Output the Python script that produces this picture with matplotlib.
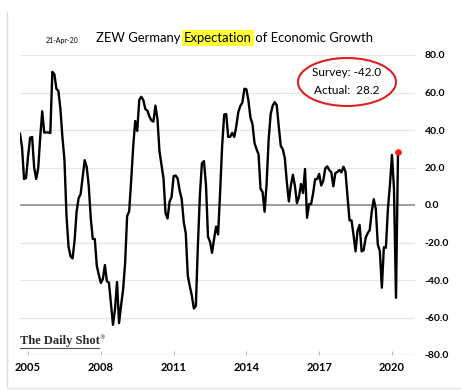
import matplotlib.pyplot as plt
from matplotlib.patches import Ellipse

# monthly ZEW expectations, Sep 2004 .. Apr 2020
start_year, start_month = 2004, 9
values = [
    38.0, 31.0, 13.9, 14.4,
    26.1, 35.9, 36.3, 20.1, 13.9, 19.5, 36.0, 50.0, 38.6, 38.7, 38.7, 38.4,
    71.0, 69.8, 62.0, 60.8, 51.2, 36.0, 24.0, -5.6, -22.2, -27.4, -28.5, -19.0,
    -3.6, 3.7, 5.8, 15.1, 23.9, 20.3, 10.4, -6.9, -18.1, -18.1, -32.5, -37.2,
    -41.6, -39.5, -32.0, -40.7, -41.4, -52.4, -63.9, -55.5, -41.1, -63.0, -53.5, -45.2,
    -31.0, -5.8, -3.5, 13.0, 31.1, 44.8, 39.5, 56.1, 57.7, 56.0, 51.1, 50.4,
    47.2, 45.1, 44.5, 53.0, 45.8, 28.7, 21.2, 14.0, -4.3, -7.2, 1.8, 4.3,
    15.4, 15.7, 14.1, 7.6, 3.1, -9.0, -15.1, -37.6, -43.3, -48.3, -55.2, -53.8,
    -21.6, 5.4, 22.3, 23.4, 10.8, -16.9, -19.6, -25.5, -18.2, -11.5, -15.7, 6.9,
    31.5, 48.2, 48.5, 36.3, 36.4, 38.5, 36.3, 42.0, 49.6, 52.8, 54.6, 62.0,
    61.7, 55.7, 46.6, 43.2, 33.1, 29.8, 27.1, 8.6, 6.9, -3.6, 11.5, 34.9,
    48.4, 53.0, 54.8, 53.3, 41.9, 31.5, 29.7, 25.0, 12.1, 1.9, 10.4, 16.1,
    10.2, 1.0, 4.3, 11.2, 6.4, 19.2, -6.8, 0.5, 0.5, 6.2, 13.8, 13.8,
    16.6, 10.4, 12.8, 19.5, 20.6, 18.6, 17.5, 10.0, 17.0, 17.6, 18.7, 17.4,
    20.4, 17.8, 5.1, -8.2, -8.2, -16.1, -24.7, -13.7, -10.6, -24.7, -24.1, -17.5,
    -15.0, -13.4, -3.6, 3.1, -2.1, -21.1, -24.5, -44.1, -22.5, -22.8, -2.1, 10.7,
    26.7, 8.7, -49.5, 28.2,
]
dates = [start_year + (start_month - 1 + i) / 12 for i in range(len(values))]

year_ticks = [2005, 2008, 2011, 2014, 2017, 2020]
y_ticks = [80, 60, 40, 20, 0, -20, -40, -60, -80]

survey = -42.0
actual = values[-1]

plt.rcParams['font.family'] = ['Lato', 'DejaVu Sans']

fig = plt.figure(figsize=(4.61, 3.91), dpi=100)
ax = fig.add_axes([20 / 461, 1 - 355 / 391, 395 / 461, 300 / 391])

for v in y_ticks:
    if v == 0:
        ax.axhline(v, color='#8c8c8c', lw=1.2, zorder=1)
    elif v == -80:
        ax.axhline(v, color='#cfcfcf', lw=1.0, zorder=1)
    else:
        ax.axhline(v, color='#e6e6e6', lw=0.9, zorder=1)

ax.plot(dates, values, color='black', lw=1.7, zorder=3)
ax.plot(dates[-1], values[-1], 'o', color='#ff1a1a', ms=3.8, zorder=4)

ax.set_xlim(2004.667, 2020.95)
ax.set_ylim(-80, 80)
for s in ax.spines.values():
    s.set_visible(False)

ax.set_xticks(year_ticks)
ax.set_xticklabels([str(y) for y in year_ticks], fontweight='bold', fontsize=8)
ax.tick_params(axis='x', direction='in', length=3, color='#bbbbbb', pad=5)
ax.yaxis.tick_right()
ax.set_yticks(y_ticks)
ax.set_yticklabels([f'{v:.1f}' for v in y_ticks], fontweight='bold', fontsize=7.5)
ax.tick_params(axis='y', length=0, pad=7)

# title with highlighted word
fig.text(0.135, 1 - 40 / 391, '21-Apr-20', fontsize=5, va='center', ha='center')
tsize = 9.4
t1 = fig.text(96 / 461, 1 - 38 / 391, 'ZEW Germany ', fontsize=tsize, va='center')
fig.canvas.draw()
bb = t1.get_window_extent()
t2 = fig.text(bb.x1 / 461, 1 - 38 / 391, 'Expectation', fontsize=tsize, va='center',
              bbox=dict(facecolor='#ffff33', edgecolor='none', pad=1.5))
fig.canvas.draw()
bb2 = t2.get_window_extent()
fig.text(bb2.x1 / 461, 1 - 38 / 391, ' of Economic Growth', fontsize=tsize, va='center')

# survey / actual callout
ell = Ellipse((347 / 461, 1 - 82 / 391), 98 / 461, 48 / 391, transform=fig.transFigure,
              facecolor='white', edgecolor='#e02020', lw=1.5, zorder=5)
fig.add_artist(ell)
fig.text(347 / 461, 1 - 73 / 391, f'Survey: {survey:.1f}', fontsize=8.5, ha='center', va='center', zorder=6)
fig.text(347 / 461, 1 - 91 / 391, f'Actual:  {actual:.1f}', fontsize=8.5, ha='center', va='center', zorder=6)

fig.text(20 / 461, 1 - 341 / 391, 'The Daily Shot', fontsize=9, family='Liberation Serif',
         fontweight='bold', va='center', color='#2a2a2a')
fig.add_artist(plt.Line2D([20 / 461, 99 / 461], [1 - 348 / 391, 1 - 348 / 391],
                          transform=fig.transFigure, color='#555555', lw=0.8))
fig.text(99 / 461, 1 - 338 / 391, '®', fontsize=4, family='DejaVu Serif', va='center')

# screenshot border
fig.add_artist(plt.Line2D([7 / 461, 7 / 461], [0.008, 1 - 12 / 391], transform=fig.transFigure,
                          color='#dddddd', lw=1.0))
fig.add_artist(plt.Line2D([7 / 461, 1], [0.008, 0.008], transform=fig.transFigure,
                          color='#e6e6e6', lw=1.0))

fig.savefig('out.png', dpi=100)
